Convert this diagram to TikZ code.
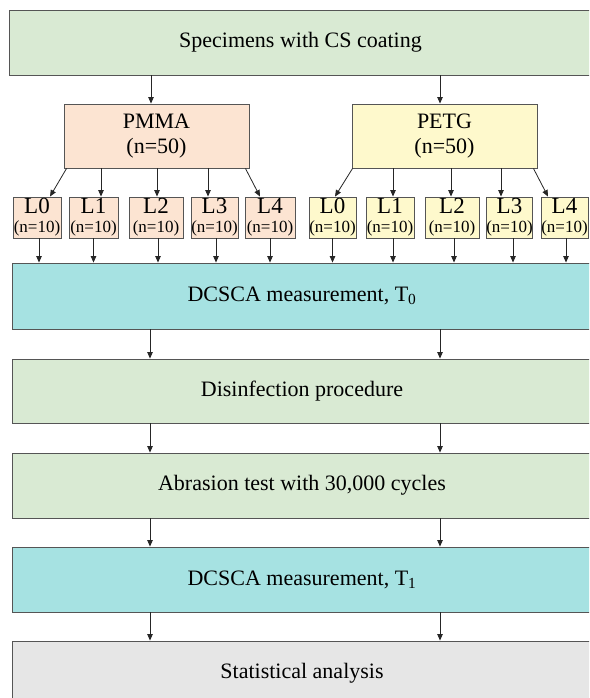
\documentclass[tikz,border=0pt]{standalone}
\usepackage{fontspec}
\setmainfont{Liberation Serif}
\usetikzlibrary{arrows.meta}
\definecolor{cgreen}{RGB}{217,234,211}
\definecolor{cpeach}{RGB}{252,228,210}
\definecolor{cyellow}{RGB}{254,249,204}
\definecolor{ccyan}{RGB}{166,226,226}
\definecolor{cgray}{RGB}{230,230,230}
\definecolor{cborder}{RGB}{85,85,85}
\begin{document}
\begin{tikzpicture}[x=1pt,y=-1pt,
  box/.style={draw=cborder, line width=0.9pt, inner sep=0pt, align=center,
    font=\fontsize{22}{25}\selectfont},
  wide/.style={box, minimum width=580pt, minimum height=65pt},
  grp/.style={box, minimum width=185pt, minimum height=64pt},
  lbox/.style={box, minimum height=41pt, font=\fontsize{23}{19}\selectfont},
  arr/.style={draw=black!85, line width=0.8pt, -{Triangle[length=6.5pt,width=5.5pt]}},
]
\newcommand{\nten}{{\fontsize{17}{19}\selectfont(n=10)}}
\useasboundingbox (0,0) rectangle (589,698);
\begin{scope}
\clip (0,0) rectangle (589,698);
% big boxes
\node[box, fill=cgreen, minimum width=583pt, minimum height=65pt] (top) at (300.5,42.5) {Specimens with CS coating};
\node[grp, fill=cpeach] (pmma) at (156.5,136) {PMMA\\(n=50)};
\node[grp, fill=cyellow] (petg) at (444.5,136) {PETG\\(n=50)};
% L boxes PMMA
\node[lbox, fill=cpeach, minimum width=48pt] (a0) at (37,217.5) {L0\\\nten};
\node[lbox, fill=cpeach, minimum width=49pt] (a1) at (93.5,217.5) {L1\\\nten};
\node[lbox, fill=cpeach, minimum width=54pt] (a2) at (156,217.5) {L2\\\nten};
\node[lbox, fill=cpeach, minimum width=47pt] (a3) at (214.5,217.5) {L3\\\nten};
\node[lbox, fill=cpeach, minimum width=50pt] (a4) at (270,217.5) {L4\\\nten};
% L boxes PETG
\node[lbox, fill=cyellow, minimum width=47pt] (b0) at (332.5,217.5) {L0\\\nten};
\node[lbox, fill=cyellow, minimum width=48pt] (b1) at (390,217.5) {L1\\\nten};
\node[lbox, fill=cyellow, minimum width=54pt] (b2) at (452,217.5) {L2\\\nten};
\node[lbox, fill=cyellow, minimum width=45pt] (b3) at (509.5,217.5) {L3\\\nten};
\node[lbox, fill=cyellow, minimum width=47pt] (b4) at (564.5,217.5) {L4\\\nten};
% process boxes
\node[wide, fill=ccyan, minimum height=66pt] (dc0) at (302,296) {DCSCA measurement, T\textsubscript{0}};
\node[wide, fill=cgreen, minimum height=64pt] (dis) at (302,391) {Disinfection procedure};
\node[wide, fill=cgreen] (abr) at (302,485.5) {Abrasion test with 30,000 cycles};
\node[wide, fill=ccyan] (dc1) at (302,579.5) {DCSCA measurement, T\textsubscript{1}};
\node[wide, fill=cgray] (stat) at (302,673.5) {Statistical analysis};
\coordinate (ca) at (150,0);
\coordinate (cb) at (440,0);
% arrows
\draw[arr] ([xshift=-5.5pt]pmma.north |- top.south) -- ([xshift=-5.5pt]pmma.north);
\draw[arr] ([xshift=-4.5pt]petg.north |- top.south) -- ([xshift=-4.5pt]petg.north);
\draw[arr] ([xshift=3pt]pmma.south west) -- ([xshift=13pt]a0.north);
\draw[arr] ([xshift=7.5pt]a1.north |- pmma.south) -- ([xshift=7.5pt]a1.north);
\draw[arr] ([xshift=1pt]a2.north |- pmma.south) -- ([xshift=1pt]a2.north);
\draw[arr] ([xshift=-6.5pt]a3.north |- pmma.south) -- ([xshift=-6.5pt]a3.north);
\draw[arr] ([xshift=-4pt]pmma.south east) -- ([xshift=-10pt]a4.north);
\draw[arr] ([xshift=1pt]petg.south west) -- ([xshift=2.5pt]b0.north);
\draw[arr] ([xshift=3pt]b1.north |- petg.south) -- ([xshift=3pt]b1.north);
\draw[arr] ([xshift=-1pt]b2.north |- petg.south) -- ([xshift=-1pt]b2.north);
\draw[arr] ([xshift=-8.5pt]b3.north |- petg.south) -- ([xshift=-8.5pt]b3.north);
\draw[arr] ([xshift=-4pt]petg.south east) -- ([xshift=-16.5pt]b4.north);
\foreach \n/\s in {a0/2,a1/0,a2/2,a3/1.5,a4/0,b0/0,b1/3,b2/2,b3/3.5,b4/1.5}
  \draw[arr] ([xshift=\s pt]\n.south) -- ([xshift=\s pt]\n.south |- dc0.north);
\draw[arr] (dc0.south -| ca) -- (dis.north -| ca);
\draw[arr] (dc0.south -| cb) -- (dis.north -| cb);
\draw[arr] (dis.south -| ca) -- (abr.north -| ca);
\draw[arr] (dis.south -| cb) -- (abr.north -| cb);
\draw[arr] (abr.south -| ca) -- (dc1.north -| ca);
\draw[arr] (abr.south -| cb) -- (dc1.north -| cb);
\draw[arr] (dc1.south -| ca) -- (stat.north -| ca);
\draw[arr] (dc1.south -| cb) -- (stat.north -| cb);
\end{scope}
\end{tikzpicture}
\end{document}
